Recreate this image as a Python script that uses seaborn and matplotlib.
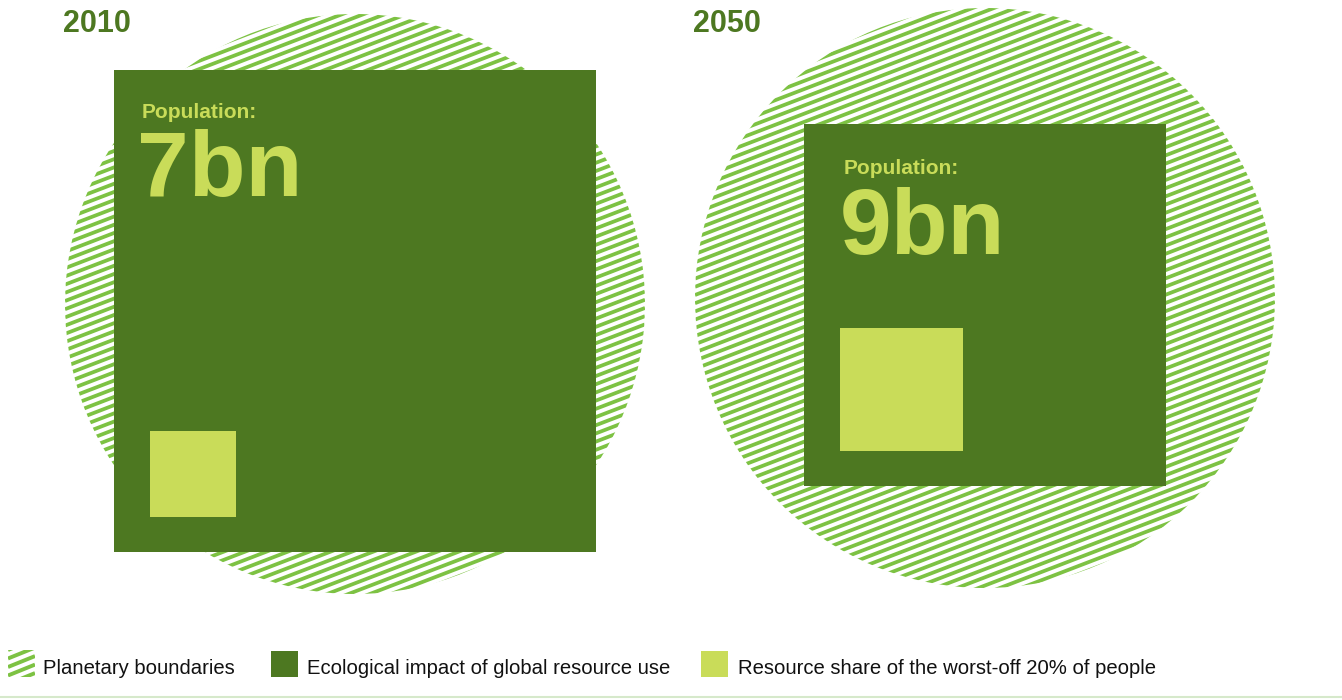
import numpy as np
import matplotlib
matplotlib.use("Agg")
import matplotlib.pyplot as plt
import seaborn as sns
from matplotlib.patches import Circle, Rectangle
from matplotlib.collections import LineCollection

# ── data (sizes relative to the planetary boundary radius) ──
years = ["2010", "2050"]
population = ["7bn", "9bn"]
boundary_radius = [1.0, 1.0]
impact_side = [1.66, 1.245]
worst_off_side = [0.297, 0.424]
legend_labels = [
    "Planetary boundaries",
    "Ecological impact of global resource use",
    "Resource share of the worst-off 20% of people",
]

DARK = "#4d7821"
LIGHT = "#c9dc59"
HATCH = "#7dc243"
SCALE = 290  # px per unit

sns.set_theme(style="white")
plt.rcParams["font.family"] = ["Liberation Sans", "DejaVu Sans"]

fig = plt.figure(figsize=(13.42, 7), dpi=100)
ax = fig.add_axes([0, 0, 1, 1])
ax.set_xlim(0, 1342)
ax.set_ylim(700, 0)
ax.axis("off")


def hatch_lines(ax, clip, x0, x1, y0, y1, step=8.2, angle=21, lw=2.7):
    """Draw slanted stripes over a box and clip them to a patch."""
    t = np.tan(np.radians(angle))
    starts = np.arange(y0, y1 + (x1 - x0) * t + step, step)
    segs = [[(x0, c), (x1, c - (x1 - x0) * t)] for c in starts]
    lc = LineCollection(segs, colors=HATCH, linewidths=lw, zorder=1)
    ax.add_collection(lc)
    lc.set_clip_path(clip)


centers = [(355, 304), (985, 298)]
# (x offset, label baseline, number baseline) from the square's top-left
label_off = [(27, 48, 126), (39, 50, 130)]

for i, year in enumerate(years):
    cx, cy = centers[i]
    r = boundary_radius[i] * SCALE
    circ = Circle((cx, cy), r, facecolor="none", edgecolor="none",
                  transform=ax.transData)
    ax.add_patch(circ)
    hatch_lines(ax, circ, cx - r, cx + r, cy - r, cy + r)

    s = impact_side[i] * SCALE
    left, top = cx - s / 2, cy + 7 - s / 2
    ax.add_patch(Rectangle((left, top), s, s, facecolor=DARK,
                           edgecolor="none", zorder=2))

    w = worst_off_side[i] * SCALE
    ax.add_patch(Rectangle((left + 36, top + s - 35 - w), w, w,
                           facecolor=LIGHT, edgecolor="none", zorder=3))

    dx, dy_lab, dy_num = label_off[i]
    ax.text(left + dx, top + dy_lab, "Population:", color=LIGHT, fontsize=15,
            fontweight="bold", va="baseline", ha="left", zorder=4)
    ax.text(left + dx - 4, top + dy_num, population[i], color=LIGHT,
            fontsize=67, fontweight="bold", va="baseline", ha="left",
            zorder=4)

    ax.text(cx - r - 2, 24, year, color=DARK, fontsize=22,
            fontweight="bold", va="center", ha="left", zorder=4)

# ── legend ──
icon = Rectangle((8, 650), 27, 27, facecolor="none", edgecolor="none")
ax.add_patch(icon)
hatch_lines(ax, icon, 8, 35, 650, 677, step=8.5, angle=22, lw=2.8)
ax.add_patch(Rectangle((271, 651), 27, 26, facecolor=DARK, edgecolor="none"))
ax.add_patch(Rectangle((701, 651), 27, 26, facecolor=LIGHT, edgecolor="none"))
for x, lab in zip([43, 307, 738], legend_labels):
    ax.text(x, 669, lab, fontsize=14.6, color="#111111", va="center", ha="left")

ax.plot([0, 1342], [697, 697], color="#d6e9cb", lw=1.5)

fig.savefig("out.png", dpi=100)
